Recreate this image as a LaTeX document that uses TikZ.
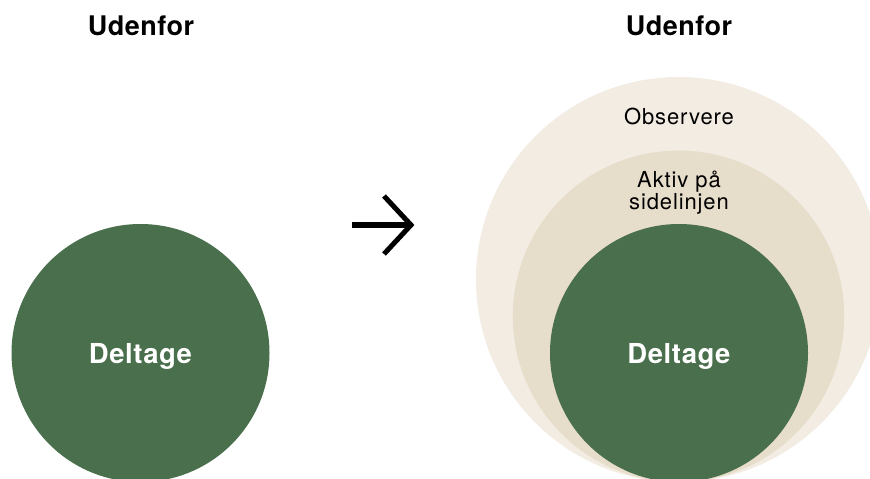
\documentclass[tikz,border=0pt]{standalone}
\usepackage{fontspec}
\setmainfont{TeX Gyre Heros}
\definecolor{outerbeige}{HTML}{F2ECE2}
\definecolor{midbeige}{HTML}{E7DDCB}
\definecolor{deepgreen}{HTML}{4A6F4C}
\begin{document}
\begin{tikzpicture}[x=1pt,y=-1pt,
  disc/.style={circle,inner sep=0pt,outer sep=0pt,draw=none},
  headlbl/.style={anchor=base,inner sep=0pt,font=\fontsize{27}{30}\selectfont\bfseries\addfontfeature{LetterSpace=2}},
  corelbl/.style={anchor=base,inner sep=0pt,text=white,font=\fontsize{27.5}{30}\selectfont\bfseries\addfontfeature{LetterSpace=2}},
  ringlbl/.style={anchor=base,inner sep=0pt,font=\fontsize{22}{26}\selectfont\addfontfeature{LetterSpace=4}}]
\useasboundingbox (0,0) rectangle (870,479);
\begin{scope}
\clip (0,0) rectangle (870,479);
% left
\node[disc,fill=deepgreen,minimum size=258pt] (leftcore) at (140.5,353) {};
% right
\node[disc,fill=outerbeige,minimum size=405pt] (outer) at (678.5,279.5) {};
\node[disc,fill=midbeige,minimum size=331.5pt] (middle) at (678.5,316.3) {};
\node[disc,fill=deepgreen,minimum size=258pt] (rightcore) at (679,353) {};
\end{scope}
\node[headlbl] (lhead) at (141,35) {Udenfor};
\node[headlbl] (rhead) at (679,35) {Udenfor};
\node[corelbl] (ldel) at (140.5,363) {Deltage};
\node[corelbl] (rdel) at (679,363) {Deltage};
\node[ringlbl] (obs) at (679,124) {Observere};
\node[ringlbl] (akt1) at (679,187) {Aktiv på};
\node[ringlbl] (akt2) at (679,209) {sidelinjen};
% arrow
\coordinate (arrs) at (352,225);
\coordinate (arre) at (411,225);
\coordinate (arrt) at (384,196);
\coordinate (arrb) at (384,254);
\draw[line width=5.5pt] (arrs) -- ([xshift=-3pt]arre);
\draw[line width=5pt,line join=miter,miter limit=10] (arrt) -- (arre) -- (arrb);
\end{tikzpicture}
\end{document}
